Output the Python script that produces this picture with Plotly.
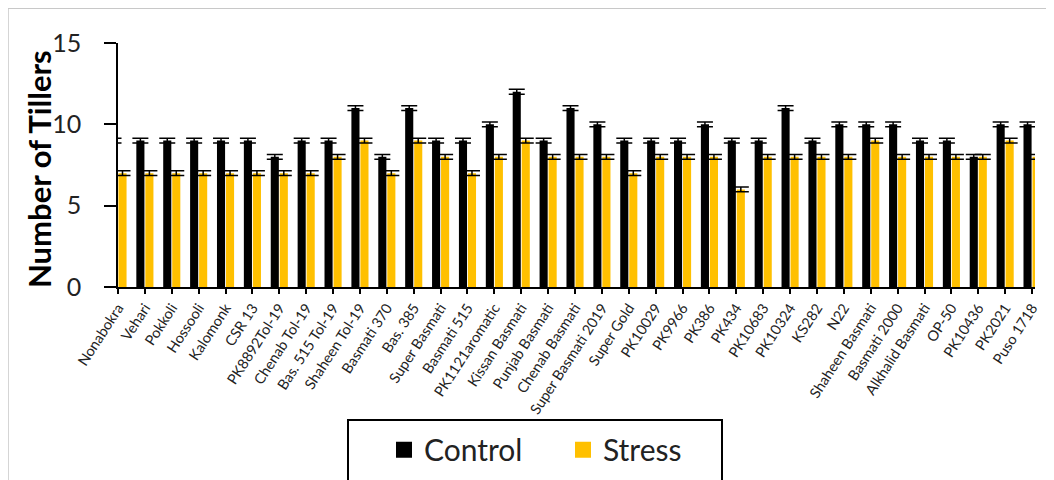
import plotly.graph_objects as go

categories = ["Nonabokra", "Vehari", "Pokkoli", "Hossooli", "Kalomonk", "CSR 13",
              "PK8892Tol-19", "Chenab Tol-19", "Bas. 515 Tol-19", "Shaheen Tol-19",
              "Basmati 370", "Bas. 385", "Super Basmati", "Basmati 515", "PK1121aromatic",
              "Kissan Basmati", "Punjab Basmati", "Chenab Basmati", "Super Basmati 2019",
              "Super Gold", "PK10029", "PK9966", "PK386", "PK434", "PK10683", "PK10324",
              "KS282", "N22", "Shaheen Basmati", "Basmati 2000", "Alkhalid Basmati",
              "OP-50", "PK10436", "PK2021", "Puso 1718"]

control = [9, 9, 9, 9, 9, 9, 8, 9, 9, 11,
           8, 11, 9, 9, 10, 12, 9, 11, 10, 9,
           9, 9, 10, 9, 9, 11, 9, 10, 10, 10,
           9, 9, 8, 10, 10]
stress = [7, 7, 7, 7, 7, 7, 7, 7, 8, 9,
          7, 9, 8, 7, 8, 9, 8, 8, 8, 7,
          8, 8, 8, 6, 8, 8, 8, 8, 9, 8,
          8, 8, 8, 9, 8]
control_err = [0.15] * len(categories)
stress_err = [0.15] * len(categories)

series_names = ["Control", "Stress"]
series_colors = ["#000000", "#FFC000"]
y_title = "Number of Tillers"

FONT = "Lato"

fig = go.Figure()
for name, vals, errs, col in zip(series_names, [control, stress], [control_err, stress_err], series_colors):
    fig.add_trace(go.Bar(
        x=categories, y=vals, name=name, showlegend=False,
        marker=dict(color=col, line=dict(width=0)),
        error_y=dict(type="data", array=errs, color="#000000", thickness=1.5, width=8),
    ))
# legend entries with larger square swatches
for name, col in zip(series_names, series_colors):
    fig.add_trace(go.Scatter(
        x=[None], y=[None], mode="markers", name=name,
        marker=dict(symbol="square", size=17, color=col),
    ))

# page has an 8px body margin; figure coords = page coords - 8
OFF = 8
W, H = 1054, 480
L, T = 118 - OFF, 43 - OFF
B = H - (289 - OFF)
R = W - (1035 - OFF)
pw, ph = W - L - R, H - T - B


def px(x):
    return (x - OFF - L) / pw


def py(y):
    return (H - B - (y - OFF)) / ph


fig.update_layout(
    width=W, height=H,
    margin=dict(l=L, r=R, t=T, b=B),
    paper_bgcolor="white", plot_bgcolor="white",
    barmode="group", bargap=0.33, bargroupgap=0.1,
    font=dict(family=FONT, color="#000000"),
    showlegend=True,
    legend=dict(orientation="h", x=px(384), y=py(453), xanchor="left", yanchor="middle",
                font=dict(size=30, family=FONT, color="#222222"),
                bgcolor="rgba(0,0,0,0)", borderwidth=0, itemwidth=30,
                entrywidth=134, entrywidthmode="pixels"),
    xaxis=dict(
        range=[0, 34.11], showline=True, linecolor="#000000", linewidth=1.5,
        ticks="outside", ticklen=5, tickcolor="#000000", tickwidth=1.5,
        tickangle=-57, tickfont=dict(size=14.5, family=FONT, color="#222222"),
        showgrid=False, zeroline=False, automargin=False,
    ),
    yaxis=dict(
        range=[0, 15], tickvals=[0, 5, 10, 15], showline=True, linecolor="#000000", linewidth=1.5,
        ticks="outside", ticklen=12, tickcolor="#000000", tickwidth=1.5,
        ticklabelstandoff=18,
        tickfont=dict(size=25, family=FONT, color="#222222"),
        showgrid=False, zeroline=False, automargin=False,
    ),
    annotations=[
        dict(text="<b>" + y_title + "</b>", xref="paper", yref="paper",
             x=px(39), y=py(170), xanchor="center", yanchor="middle", textangle=-90,
             showarrow=False, font=dict(size=31, family=FONT, color="#000000")),
    ],
    shapes=[
        dict(type="rect", xref="paper", yref="paper", x0=px(8), x1=px(1090), y0=py(8), y1=py(520),
             line=dict(color="#c8c8c8", width=1.5), fillcolor="rgba(0,0,0,0)", layer="below"),
        dict(type="rect", xref="paper", yref="paper", x0=px(348), x1=px(722), y0=py(423), y1=py(520),
             line=dict(color="#000000", width=2), fillcolor="rgba(0,0,0,0)"),
    ],
)

fig.write_html("out.html")
